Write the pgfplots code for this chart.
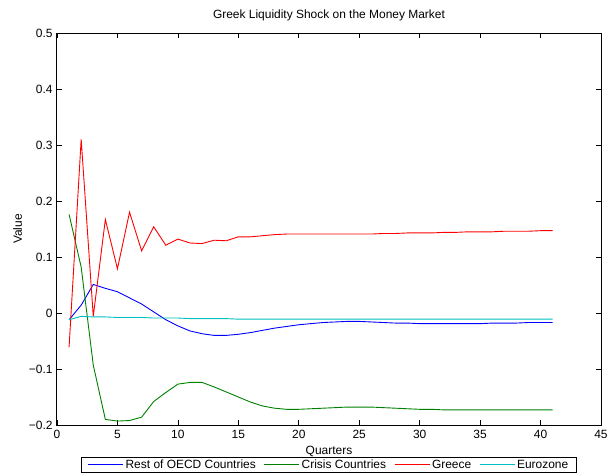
\documentclass[border=0pt]{standalone}
\usepackage{pgfplots}
\pgfplotsset{compat=1.18}
\usepackage{fontspec}
\setmainfont{Liberation Sans}
\definecolor{mgreen}{rgb}{0,0.5,0}
\definecolor{mcyan}{rgb}{0,0.75,0.75}
\begin{document}
\begin{tikzpicture}
\begin{axis}[
    scale only axis,
    width=544bp, height=392bp,
    xmin=0, xmax=45, ymin=-0.2, ymax=0.5,
    xtick={0,5,...,45},
    ytick={-0.2,-0.1,0,0.1,0.2,0.3,0.4,0.5},
    yticklabels={−0.2,−0.1,0,0.1,0.2,0.3,0.4,0.5},
    /pgf/number format/assume math mode=true,
    tick align=inside,
    major tick length=5bp,
    tick style={black, line width=0.6bp},
    axis line style={line width=1bp},
    font=\fontsize{12}{14}\selectfont,
    title={Greek Liquidity Shock on the Money Market},
    title style={at={(axis description cs:0.5,1.022)}, anchor=base},
    xlabel={Quarters},
    xlabel style={at={(axis description cs:0.5,-0.0765)}, anchor=base},
    ylabel={Value},
    ylabel style={at={(axis description cs:-0.0726,0.5)}, anchor=center},
    xticklabel style={yshift=-2bp},
    yticklabel style={xshift=-1bp},
    legend columns=-1,
    legend style={at={(axis description cs:0.5,-0.0816)}, anchor=north,
        line width=0.6bp, inner ysep=1bp, inner xsep=6bp,
        nodes={inner xsep=2bp, inner ysep=1.5bp},
        /tikz/every even column/.append style={column sep=6bp}},
    legend image code/.code={\draw[line width=0.9bp, #1] (0bp,0bp) -- (35bp,0bp);},
  ]
  % Rest of OECD Countries
  \addplot[draw=blue, line width=0.9bp] coordinates {
    (1,-0.012) (2,0.014) (3,0.051) (4,0.044) (5,0.038) (6,0.027) (7,0.016)
    (8,0.002) (9,-0.012) (10,-0.023) (11,-0.032) (12,-0.037) (13,-0.040)
    (14,-0.040) (15,-0.038) (16,-0.035) (17,-0.031) (18,-0.027) (19,-0.024)
    (20,-0.021) (21,-0.019) (22,-0.017) (23,-0.016) (24,-0.015) (25,-0.015)
    (26,-0.016) (27,-0.017) (28,-0.018) (29,-0.018) (30,-0.019) (31,-0.019)
    (32,-0.019) (33,-0.019) (34,-0.019) (35,-0.019) (36,-0.018) (37,-0.018)
    (38,-0.018) (39,-0.017) (40,-0.017) (41,-0.017)
  };
  \addlegendentry{Rest of OECD Countries}
  % Crisis Countries
  \addplot[draw=mgreen, line width=0.9bp] coordinates {
    (1,0.176) (2,0.082) (3,-0.093) (4,-0.190) (5,-0.193) (6,-0.192) (7,-0.186)
    (8,-0.158) (9,-0.142) (10,-0.127) (11,-0.124) (12,-0.124) (13,-0.132)
    (14,-0.141) (15,-0.150) (16,-0.159) (17,-0.166) (18,-0.170) (19,-0.172)
    (20,-0.172) (21,-0.171) (22,-0.170) (23,-0.169) (24,-0.168) (25,-0.168)
    (26,-0.168) (27,-0.169) (28,-0.170) (29,-0.171) (30,-0.172) (31,-0.172)
    (32,-0.173) (33,-0.173) (34,-0.173) (35,-0.173) (36,-0.173) (37,-0.173)
    (38,-0.173) (39,-0.173) (40,-0.173) (41,-0.173)
  };
  \addlegendentry{Crisis Countries}
  % Greece
  \addplot[draw=red, line width=0.9bp] coordinates {
    (1,-0.061) (2,0.310) (3,-0.006) (4,0.167) (5,0.079) (6,0.180) (7,0.111)
    (8,0.154) (9,0.121) (10,0.132) (11,0.125) (12,0.124) (13,0.130)
    (14,0.129) (15,0.136) (16,0.136) (17,0.138) (18,0.140) (19,0.141)
    (20,0.141) (21,0.141) (22,0.141) (23,0.141) (24,0.141) (25,0.141)
    (26,0.141) (27,0.142) (28,0.142) (29,0.143) (30,0.143) (31,0.143)
    (32,0.144) (33,0.144) (34,0.145) (35,0.145) (36,0.145) (37,0.146)
    (38,0.146) (39,0.146) (40,0.147) (41,0.147)
  };
  \addlegendentry{Greece}
  % Eurozone
  \addplot[draw=mcyan, line width=0.9bp] coordinates {
    (1,-0.012) (2,-0.006) (3,-0.007) (4,-0.007) (5,-0.008) (6,-0.008) (7,-0.008)
    (8,-0.009) (9,-0.009) (10,-0.009) (11,-0.010) (12,-0.010) (13,-0.010)
    (14,-0.010) (15,-0.011) (16,-0.011) (17,-0.011) (18,-0.011) (19,-0.011)
    (20,-0.011) (21,-0.011) (22,-0.011) (23,-0.011) (24,-0.011) (25,-0.011)
    (26,-0.011) (27,-0.011) (28,-0.011) (29,-0.011) (30,-0.011) (31,-0.011)
    (32,-0.011) (33,-0.011) (34,-0.011) (35,-0.011) (36,-0.011) (37,-0.011)
    (38,-0.011) (39,-0.011) (40,-0.011) (41,-0.011)
  };
  \addlegendentry{Eurozone}
\end{axis}
\pgfresetboundingbox
\path[use as bounding box] (-57bp,-51bp) rectangle (552bp,425bp);
\end{tikzpicture}
\end{document}
